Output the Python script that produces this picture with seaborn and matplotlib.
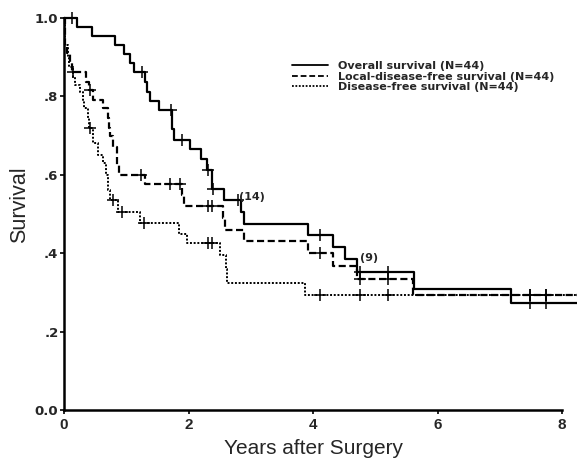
import numpy as np
import pandas as pd
import matplotlib
matplotlib.use("Agg")
import matplotlib.pyplot as plt
import seaborn as sns

# ---- data ----
labels = ["Overall survival (N=44)",
          "Local-disease-free survival (N=44)",
          "Disease-free survival (N=44)"]

os_times = [0.21, 0.45, 0.82, 0.97, 1.06, 1.12, 1.30, 1.33, 1.38, 1.52, 1.74, 1.76,
            2.03, 2.20, 2.30, 2.38, 2.57, 2.85, 2.89, 3.92, 4.32, 4.52, 4.70, 5.63, 7.18]
os_surv = [0.977, 0.954, 0.931, 0.908, 0.885, 0.862, 0.838, 0.812, 0.789, 0.765, 0.717, 0.690,
           0.666, 0.640, 0.612, 0.565, 0.536, 0.505, 0.475, 0.446, 0.415, 0.385, 0.352, 0.308, 0.273]
os_cens = [0.13, 1.25, 1.72, 1.90, 2.32, 2.39, 2.80, 4.11, 4.76, 5.21, 7.48, 7.74]

ldfs_times = [0.02, 0.05, 0.10, 0.13, 0.36, 0.40, 0.47, 0.62, 0.70, 0.72, 0.74, 0.79,
              0.85, 0.88, 1.30, 1.90, 1.92, 2.55, 2.58, 2.89, 3.92, 4.32, 4.70, 5.60]
ldfs_surv = [0.930, 0.910, 0.885, 0.862, 0.838, 0.816, 0.790, 0.770, 0.745, 0.720, 0.700, 0.670,
             0.625, 0.600, 0.576, 0.548, 0.520, 0.490, 0.460, 0.430, 0.400, 0.367, 0.334, 0.293]
ldfs_cens = [0.15, 0.42, 1.23, 1.71, 1.87, 2.31, 2.38, 4.11, 4.76, 5.21, 7.48, 7.74]

dfs_times = [0.02, 0.06, 0.08, 0.14, 0.18, 0.25, 0.30, 0.32, 0.38, 0.40, 0.47, 0.55,
             0.63, 0.68, 0.70, 0.74, 0.87, 1.22, 1.84, 1.98, 2.50, 2.60, 2.62, 3.87]
dfs_surv = [0.930, 0.900, 0.875, 0.850, 0.830, 0.810, 0.790, 0.770, 0.745, 0.720, 0.680, 0.650,
            0.630, 0.600, 0.560, 0.536, 0.505, 0.477, 0.450, 0.426, 0.395, 0.360, 0.325, 0.293]
dfs_cens = [0.41, 0.79, 0.93, 1.28, 2.31, 2.38, 4.11, 4.76, 5.21, 7.48, 7.74]

x_ticks = [0, 2, 4, 6, 8]
x_tick_labels = ["0", "2", "4", "6", "8"]
y_ticks = [0.0, 0.2, 0.4, 0.6, 0.8, 1.0]
y_tick_labels = ["0.0", ".2", ".4", ".6", ".8", "1.0"]

annotations = [("(14)", 2.81, 0.543), ("(9)", 4.76, 0.388)]

# ---- styling ----
sns.set_theme(style="white")
plt.rcParams["font.family"] = ["Liberation Sans", "DejaVu Sans"]
WIDE = ["DejaVu Sans", "Liberation Sans"]

W, H = 577, 461
fig = plt.figure(figsize=(W / 100, H / 100), dpi=100)
x0px, y0px = 64, 410
px_per_year = (562 - 64) / 8.0
px_per_unit = 392.0
ax = fig.add_axes([x0px / W, (H - y0px) / H, 1 - x0px / W, y0px / H])
xmax = (W - x0px) / px_per_year
ymax = y0px / px_per_unit
ax.set_xlim(0, xmax)
ax.set_ylim(0, ymax)


def curve_frame(times, surv, name):
    xs = [0.0] + list(times) + [xmax]
    ys = [1.0] + list(surv) + [surv[-1]]
    return pd.DataFrame({"t": xs, "s": ys, "curve": name})


def step_value(times, surv, t):
    idx = np.searchsorted(np.asarray(times), t, side="right")
    return 1.0 if idx == 0 else surv[idx - 1]


series = [
    (os_times, os_surv, os_cens, labels[0], "-", 1.6),
    (ldfs_times, ldfs_surv, ldfs_cens, labels[1], (0, (3.2, 1.6)), 1.6),
    (dfs_times, dfs_surv, dfs_cens, labels[2], (0, (1, 0.9)), 1.4),
]

for times, surv, cens, name, ls, lw in series:
    df = curve_frame(times, surv, name)
    sns.lineplot(data=df, x="t", y="s", ax=ax, color="black", linestyle=ls,
                 linewidth=lw, drawstyle="steps-post", estimator=None, sort=False,
                 label=name, clip_on=False)
    cdf = pd.DataFrame({"t": cens, "s": [step_value(times, surv, c) for c in cens]})
    ax.plot(cdf["t"], cdf["s"], linestyle="none", marker="+", markersize=9,
            markeredgewidth=1.1, color="black", clip_on=False)

for txt, tx, ty in annotations:
    ax.text(tx, ty, txt, fontsize=8, fontweight="bold", family=WIDE,
            ha="left", va="center")

# axes
for side in ["top", "right"]:
    ax.spines[side].set_visible(False)
for side in ["left", "bottom"]:
    ax.spines[side].set_color("black")
    ax.spines[side].set_linewidth(1.8)
ax.spines["left"].set_bounds(0, 1.0)
ax.spines["bottom"].set_bounds(0, 8)

ax.set_xticks(x_ticks)
ax.set_xticklabels(x_tick_labels, fontsize=11, fontweight="bold")
ax.set_yticks(y_ticks)
ax.set_yticklabels(y_tick_labels, fontsize=9.5, fontweight="bold", family=WIDE)
ax.tick_params(axis="both", direction="out", length=3, width=1.2, color="black",
               bottom=True, left=True)
ax.tick_params(axis="y", pad=1)
ax.tick_params(axis="x", pad=3)

ax.set_xlabel("Years after Surgery", fontsize=15)
ax.set_ylabel("Survival", fontsize=15.5)
ax.xaxis.set_label_coords((314 - x0px) / (W - x0px), -(439 - y0px) / y0px)
ax.yaxis.set_label_coords((30 - x0px) / (W - x0px), 0.5)

leg = ax.legend(loc="upper left", bbox_to_anchor=(292 / W, 1 - 61 / H),
                bbox_transform=fig.transFigure, frameon=False, borderpad=0,
                borderaxespad=0, handlelength=3.25, handletextpad=0.9,
                labelspacing=0.05,
                prop={"size": 8, "weight": "bold", "family": WIDE})
for line in leg.get_lines():
    line.set_linewidth(1.3)

fig.savefig("out.png", dpi=100)
